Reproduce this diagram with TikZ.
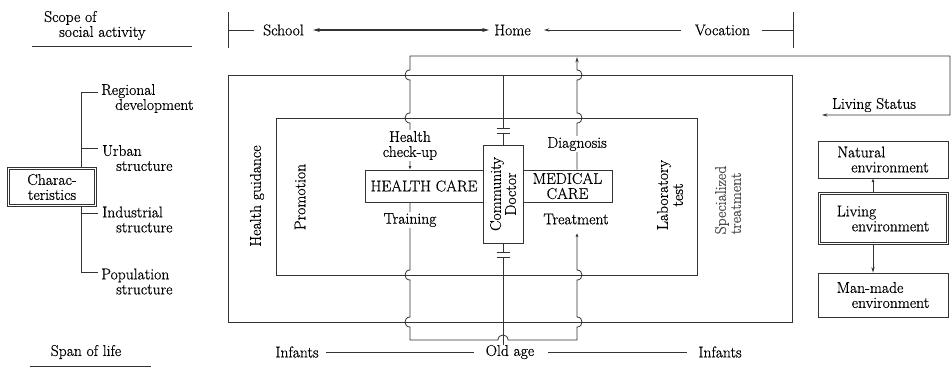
\documentclass[tikz,border=0pt]{standalone}
\usepackage{fontspec}
\setmainfont{Latin Modern Roman}[FakeBold=0.6]
\usetikzlibrary{arrows.meta}
\begin{document}
\begin{tikzpicture}[x=1pt,y=-1pt,
  every node/.style={font=\fontsize{15.6}{15}\selectfont, inner sep=0pt, text=black},
  ln/.style={line width=0.8pt, draw=black!80},
  frame/.style={line width=1pt, draw=black!80},
  box/.style={draw=black!80, line width=0.8pt, fill=white},
  dbox/.style={draw=black!80, line width=1pt, fill=white},
  inner/.style={line width=0.7pt, draw=black!80},
  lab/.style={fill=white, inner sep=1.5pt, align=center},
  bigtip/.style={{Stealth[length=7pt,width=4pt]}-{Stealth[length=7pt,width=4pt]}},
  tip/.style={-{Stealth[length=5.5pt,width=3.2pt]}},
  dot/.style={-{Latex[length=3.5pt,width=3pt]}}
]
\useasboundingbox (0,0) rectangle (952,370);

% ---- scope of social activity ----
\node (scope) [anchor=west, align=left] at (44,25.5) {Scope of\\\hspace*{15pt}social activity};
\draw[ln] (32,46) -- (192,46);

\node (school) at (283.5,30) {School};
\node (home) at (512.5,30) {Home};
\node (vocation) at (722.5,30) {Vocation};
\coordinate (tkl) at (228,30);
\coordinate (tkr) at (793,30);
\draw[ln] (228,12) -- (228,48);
\draw[ln] (793,12) -- (793,48);
\draw[ln] (tkl) -- ([xshift=-9pt]school.west);
\draw[ln, line width=1.2pt, bigtip] ([xshift=9pt]school.east) -- ([xshift=-5pt]home.west);
\draw[ln, tip] ([xshift=-14pt]vocation.west) -- ([xshift=13pt]home.east);
\draw[ln] ([xshift=12pt]vocation.east) -- (tkr);

% ---- characteristics tree ----
\draw[ln] (98,92) -| (81,272) -- (98,272);
\draw[ln] (81,148) -- (98,148);
\draw[ln] (81,213) -- (98,213);
\node (reg) [anchor=west, align=left] at (101,98.5) {Regional\\\hspace*{14pt}development};
\node (urb) [anchor=west, align=left] at (102,158) {Urban\\\hspace*{14pt}structure};
\node (ind) [anchor=west, align=left] at (102,219.5) {Industrial\\\hspace*{14pt}structure};
\node (pop) [anchor=west, align=left] at (101,281.5) {Population\\\hspace*{15pt}structure};
\node (char) [dbox, minimum width=89pt, minimum height=39pt, align=center] at (52,187) {Charac-\\teristics};
\draw[inner] ([xshift=2.6pt,yshift=-2.6pt]char.north west) rectangle ([xshift=-2.6pt,yshift=2.6pt]char.south east);

% ---- frames ----
\draw[frame] (228,75) rectangle (792,322);
\draw[frame] (276,118) rectangle (697,275);

\node (hg) [rotate=90] at (257,196) {Health guidance};
\node (promo) [rotate=90] at (300,197) {Promotion};
\node (labt) [rotate=90, align=center] at (670,195) {Laboratory\\test};
\node (spec) [rotate=90, align=left, text=black!70] at (728,200) {Specialized\\treatment};

% ---- care bar and doctor ----
\node (hc) [box, minimum width=118pt, minimum height=32pt] at (424,186) {HEALTH CARE};
\node (mc) [box, minimum width=89pt, minimum height=32pt, align=center] at (567.5,186) {MEDICAL\\CARE};
\node (doc) [box, minimum width=40pt, minimum height=98pt] at (503,194) {};
\node (doctxt) [rotate=90, align=center] at (doc.center) {Community\\Doctor};

% ---- living environment ----
\node (ls) at (874,105) {Living Status};
\coordinate (lsend) at (822,115);
\node (nat) [box, minimum width=130pt, minimum height=37pt, align=left] at (883,159.5) {Natural\\\hspace*{14pt}environment};
\node (liv) [dbox, minimum width=130pt, minimum height=52pt, align=left] at (883,218.5) {Living\\\hspace*{15pt}environment};
\draw[inner] ([xshift=2.6pt,yshift=-2.6pt]liv.north west) rectangle ([xshift=-2.6pt,yshift=2.6pt]liv.south east);
\node (man) [box, minimum width=130pt, minimum height=44pt, align=left] at (883,295) {Man-made\\\hspace*{15pt}environment};
\draw[ln, dot] ([xshift=-10pt]liv.north) -- ([xshift=-10pt]nat.south);
\draw[ln, tip] ([xshift=-10pt]liv.south) -- ([xshift=-10pt]man.north);

% ---- span of life ----
\node (span) at (86,352) {Span of life};
\draw[ln] (30,366) -- (151,366);
\node (inf1) at (297,352) {Infants};
\node (old) at (510,352) {Old age};
\node (inf2) at (720,352) {Infants};
\draw[ln] ([xshift=7pt]inf1.east) -- ([xshift=-12pt]old.west);
\draw[ln] ([xshift=14pt]old.east) -- ([xshift=-11pt]inf2.west);

% ---- loops through the frames ----
\coordinate (L) at (410,0);
\coordinate (R) at (577,0);
\coordinate (ctop) at (503,75);

% check-up loop up to the top bus, then on to living status
\draw[ln, {Latex[length=3.5pt,width=3pt]}-{Stealth[length=5.5pt,width=3.2pt]}]
  (hc.north -| L) -- (410,123)
  .. controls (403.33,123) and (403.33,113) .. (410,113) -- (410,80)
  .. controls (403.33,80) and (403.33,70) .. (410,70) -- (410,56)
  -- (950,56) -- (950,115) -- (lsend);

% diagnosis line up to the bus
\draw[ln, tip]
  (mc.north -| R) -- (577,123)
  .. controls (583.67,123) and (583.67,113) .. (577,113) -- (577,80)
  .. controls (583.67,80) and (583.67,70) .. (577,70) -- (577,57);

% training / treatment loop below
\draw[ln, dot]
  (hc.south -| L) -- (410,270)
  .. controls (403.33,270) and (403.33,280) .. (410,280) -- (410,317)
  .. controls (403.33,317) and (403.33,327) .. (410,327) -- (410,340)
  -- (498,340) .. controls (498,333.33) and (508,333.33) .. (508,340)
  -- (577,340) -- (577,327)
  .. controls (583.67,327) and (583.67,317) .. (577,317) -- (577,280)
  .. controls (583.67,280) and (583.67,270) .. (577,270) -- (577,233);

% doctor's line with its two breaks
\draw[ln] (ctop) -- (503,128.5);
\draw[ln] (496.5,128.5) -- (509.5,128.5) (496.5,133) -- (509.5,133);
\draw[ln] (503,133) -- (doc.north);
\draw[ln] (doc.south) -- (503,252.5);
\draw[ln] (496.5,252.5) -- (509.5,252.5) (496.5,257) -- (509.5,257);
\draw[ln] (503,257) -- (old.north -| doc.south);

% labels on the loops
\node (hcu) [lab] at (410,145.5) {Health\\check-up};
\node (diag) [lab] at (577,144) {Diagnosis};
\node (train) [lab] at (410,220) {Training};
\node (treat) at (576,219) {Treatment};
\end{tikzpicture}
\end{document}
